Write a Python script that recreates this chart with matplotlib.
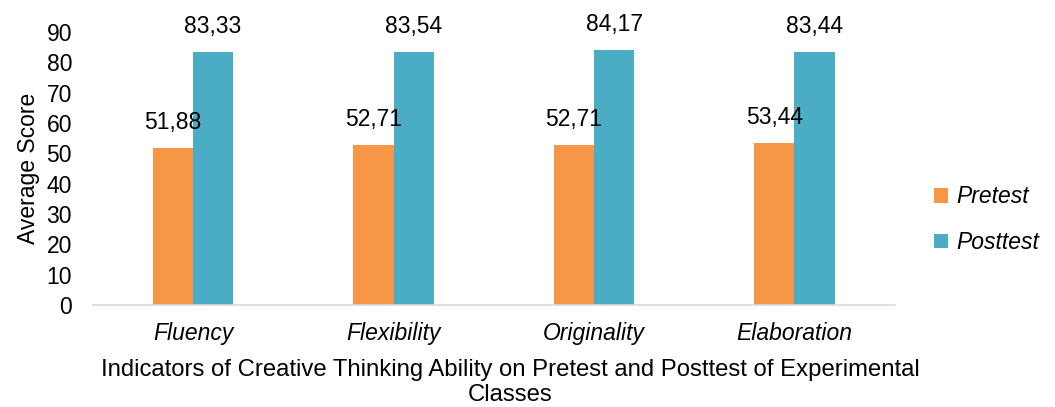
import numpy as np
import matplotlib
matplotlib.use("Agg")
import matplotlib.pyplot as plt

plt.rcParams["font.family"] = ["Liberation Sans", "DejaVu Sans"]

categories = ["Fluency", "Flexibility", "Originality", "Elaboration"]
pretest = [51.88, 52.71, 52.71, 53.44]
posttest = [83.33, 83.54, 84.17, 83.44]
series_names = ["Pretest", "Posttest"]
yticks = [0, 10, 20, 30, 40, 50, 60, 70, 80, 90]

FS = 16.5

def fmt(v):
    # comma decimal separator like the original
    return f"{v:.2f}".replace(".", ",")

fig = plt.figure(figsize=(10.55, 4.07), dpi=100)
ax = fig.add_axes([0.088, 0.251, 0.76, 0.67])

x = np.arange(len(categories))
w = 0.2
b1 = ax.bar(x - w / 2, pretest, w, color="#F79646", label=series_names[0])
b2 = ax.bar(x + w / 2, posttest, w, color="#4BACC6", label=series_names[1])

for bars, vals in ((b1, pretest), (b2, posttest)):
    for rect, v in zip(bars, vals):
        ax.annotate(fmt(v), (rect.get_x() + rect.get_width() / 2, v),
                    xytext=(0, 10), textcoords="offset points",
                    ha="center", va="bottom", fontsize=FS)

ax.set_xlim(-0.5, len(categories) - 0.5)
ax.set_ylim(0, 90)
ax.set_yticks(yticks)
ax.set_xticks(x)
ax.set_xticklabels(categories, fontstyle="italic")
ax.tick_params(axis="both", length=0, labelsize=FS)
ax.tick_params(axis="x", pad=12)
ax.tick_params(axis="y", pad=15)
for s in ("top", "right", "left"):
    ax.spines[s].set_visible(False)
ax.spines["bottom"].set_color("#D9D9D9")
ax.spines["bottom"].set_linewidth(1.2)

ax.set_ylabel("Average Score", fontsize=FS, labelpad=5)
ax.set_xlabel("Indicators of Creative Thinking Ability on Pretest and Posttest of Experimental\nClasses",
              fontsize=17.2, linespacing=1.15)
ax.xaxis.label.set_verticalalignment("top")
# label sits a bit right of the axes centre in the original
ax.xaxis.set_label_coords(0.521, -0.2)

leg = fig.legend(handles=[b1, b2], loc="center left", bbox_to_anchor=(0.866, 0.46),
                 frameon=False, prop={"size": FS, "style": "italic"},
                 handlelength=0.6, handleheight=0.6, handletextpad=0.35,
                 labelspacing=1.0)

fig.savefig("out.png", dpi=100)
